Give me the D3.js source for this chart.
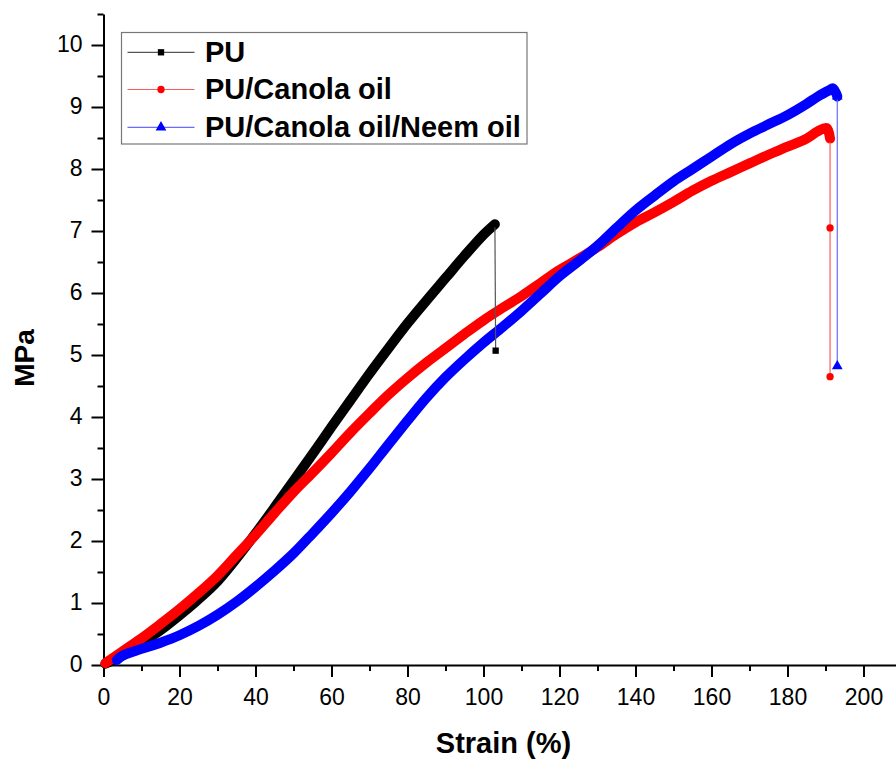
<!DOCTYPE html>
<html>
<head>
<meta charset="utf-8">
<script src="https://cdn.jsdelivr.net/npm/d3@7"></script>
<style>
  html, body { margin: 0; padding: 0; background: #fff; }
  svg { display: block; }
</style>
</head>
<body>
<svg id="chart" width="896" height="759"></svg>
<script>
// Tensile stress-strain curves
const seriesNames = ["PU", "PU/Canola oil", "PU/Canola oil/Neem oil"];
const seriesColors = ["#000000", "#ff0000", "#0000ff"];
const lineColors = ["#555555", "#ff5a5a", "#6a6aff"];

// PU
const puStrain = [0.5, 5, 10, 15, 20, 25, 30, 35, 40, 45, 50, 55, 60, 65, 70, 75, 80, 85, 90, 95, 100, 103];
const puStress = [0.02, 0.15, 0.35, 0.56, 0.80, 1.06, 1.35, 1.72, 2.12, 2.54, 2.97, 3.40, 3.84, 4.27, 4.70, 5.11, 5.51, 5.88, 6.24, 6.60, 6.94, 7.11];
const puBreakStrain = [103.2];
const puBreakStress = [5.07];

// PU/Canola oil
const coStrain = [0.5, 5, 10, 15, 20, 25, 30, 35, 40, 45, 50, 55, 60, 65, 70, 75, 80, 85, 90, 95, 100, 105, 110, 115, 120, 125, 130, 135, 140, 145, 150, 155, 160, 165, 170, 175, 180, 185, 188, 190.3, 191.2];
const coStress = [0.03, 0.22, 0.43, 0.66, 0.90, 1.16, 1.44, 1.77, 2.10, 2.45, 2.79, 3.10, 3.42, 3.75, 4.06, 4.36, 4.63, 4.88, 5.11, 5.34, 5.56, 5.76, 5.95, 6.16, 6.37, 6.55, 6.74, 6.95, 7.14, 7.30, 7.47, 7.65, 7.81, 7.95, 8.09, 8.23, 8.36, 8.49, 8.61, 8.66, 8.49];
const coBreakStrain = [191.2, 191.2];
const coBreakStress = [7.05, 4.65];

// PU/Canola oil/Neem oil
const cnStrain = [3.5, 5, 10, 15, 20, 25, 30, 35, 40, 45, 50, 55, 60, 65, 70, 75, 80, 85, 90, 95, 100, 105, 110, 115, 120, 125, 130, 135, 140, 145, 150, 155, 160, 165, 170, 175, 180, 185, 188, 191, 192, 193.1];
const cnStress = [0.08, 0.15, 0.26, 0.36, 0.48, 0.63, 0.81, 1.02, 1.26, 1.52, 1.80, 2.12, 2.45, 2.80, 3.17, 3.56, 3.94, 4.31, 4.64, 4.93, 5.20, 5.45, 5.71, 5.99, 6.27, 6.51, 6.76, 7.05, 7.33, 7.57, 7.80, 8.00, 8.20, 8.40, 8.57, 8.72, 8.87, 9.05, 9.17, 9.27, 9.30, 9.17];
const cnBreakStrain = [193.1];
const cnBreakStress = [4.82];

const xMajorTicks = [0, 20, 40, 60, 80, 100, 120, 140, 160, 180, 200];
const yMajorTicks = [0, 1, 2, 3, 4, 5, 6, 7, 8, 9, 10];

const svg = d3.select("#chart");
const font = "Arial, 'Liberation Sans', sans-serif";

const x = d3.scaleLinear().domain([0, 210]).range([103.5, 901.5]);
const y = d3.scaleLinear().domain([0, 10.5]).range([665, 14]);

const zip = (xs, ys) => xs.map((v, i) => [v, ys[i]]);
const series = [
  { curve: zip(puStrain, puStress), brk: zip(puBreakStrain, puBreakStress), sym: d3.symbolSquare, size: 40 },
  { curve: zip(coStrain, coStress), brk: zip(coBreakStrain, coBreakStress), sym: d3.symbolCircle, size: 42 },
  { curve: zip(cnStrain, cnStress), brk: zip(cnBreakStrain, cnBreakStress), sym: d3.symbolTriangle, size: 50 }
];

const line = d3.line().x(d => x(d[0])).y(d => y(d[1])).curve(d3.curveCatmullRom.alpha(0.5));
const straight = d3.line().x(d => x(d[0])).y(d => y(d[1]));

// Axes
const xMinor = d3.range(10, 211, 20);
const yMinor = d3.range(0.5, 10.6, 1);

const gx = svg.append("g").attr("transform", `translate(0,${y(0)})`);
gx.call(d3.axisBottom(x).tickValues(xMinor).tickSize(6).tickFormat("").tickSizeOuter(0));
gx.call(g => g.select(".domain").remove());
const gx2 = svg.append("g").attr("transform", `translate(0,${y(0)})`);
gx2.call(d3.axisBottom(x).tickValues(xMajorTicks).tickSize(12).tickSizeOuter(0));
gx2.selectAll("text").attr("y", 40).attr("dy", 0)
  .attr("font-family", font).attr("font-size", 23).attr("fill", "#000");

const gy = svg.append("g").attr("transform", `translate(${x(0)},0)`);
gy.call(d3.axisLeft(y).tickValues(yMinor).tickSize(6).tickFormat("").tickSizeOuter(0));
gy.call(g => g.select(".domain").remove());
const gy2 = svg.append("g").attr("transform", `translate(${x(0)},0)`);
gy2.call(d3.axisLeft(y).tickValues(yMajorTicks).tickSize(12).tickSizeOuter(0));
gy2.selectAll("text").attr("x", -21).attr("dy", "0.3em")
  .attr("font-family", font).attr("font-size", 23).attr("fill", "#000");

svg.selectAll(".domain, .tick line").attr("stroke", "#000").attr("stroke-width", 2);

// Curves
series.forEach((s, i) => {
  svg.append("path")
    .attr("d", line(s.curve))
    .attr("fill", "none")
    .attr("stroke", seriesColors[i])
    .attr("stroke-width", 10)
    .attr("stroke-linejoin", "round")
    .attr("stroke-linecap", "round");
});

// Break drop lines and end markers
series.forEach((s, i) => {
  const last = s.curve[s.curve.length - 1];
  const pts = [last].concat(s.brk);
  svg.append("path")
    .attr("d", straight(pts))
    .attr("fill", "none")
    .attr("stroke", lineColors[i])
    .attr("stroke-width", 1.2);
  svg.selectAll(null).data(pts).join("path")
    .attr("transform", d => `translate(${x(d[0])},${y(d[1])})`)
    .attr("d", d3.symbol().type(s.sym).size(s.size))
    .attr("fill", seriesColors[i]);
});

// Axis titles
svg.append("text")
  .attr("x", 503.5).attr("y", 753)
  .attr("text-anchor", "middle")
  .attr("font-family", font).attr("font-weight", "bold").attr("font-size", 29)
  .text("Strain (%)");

svg.append("text")
  .attr("transform", "translate(33.5,358) rotate(-90)")
  .attr("text-anchor", "middle")
  .attr("font-family", font).attr("font-weight", "bold").attr("font-size", 28)
  .text("MPa");

// Legend
const legend = svg.append("g");
legend.append("rect")
  .attr("x", 121.5).attr("y", 32.5).attr("width", 405.5).attr("height", 111.5)
  .attr("fill", "#fff").attr("stroke", "#777").attr("stroke-width", 1.2);
const rowY = [52.3, 89.5, 127.3];
seriesNames.forEach((name, i) => {
  const g = legend.append("g").attr("transform", `translate(0,${rowY[i]})`);
  g.append("line").attr("x1", 127.5).attr("x2", 194.5).attr("y1", 0).attr("y2", 0)
    .attr("stroke", lineColors[i]).attr("stroke-width", 1.2);
  g.append("path").attr("transform", "translate(161,0)")
    .attr("d", d3.symbol().type(series[i].sym).size(series[i].size))
    .attr("fill", seriesColors[i]);
  g.append("text").attr("x", 205).attr("y", 9.8)
    .attr("font-family", font).attr("font-weight", "bold").attr("font-size", 29)
    .text(name);
});
</script>
</body>
</html>
